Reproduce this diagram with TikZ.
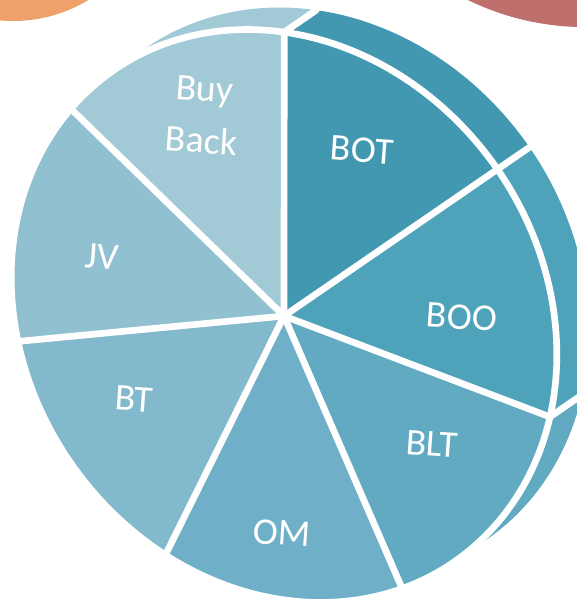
\documentclass[tikz,border=0pt]{standalone}
\usepackage{fontspec}
\setmainfont{Carlito}
\definecolor{cBOT}{RGB}{67,152,177}
\definecolor{cBOO}{RGB}{78,163,186}
\definecolor{cBLT}{RGB}{98,170,193}
\definecolor{cOM}{RGB}{111,175,199}
\definecolor{cBT}{RGB}{131,185,204}
\definecolor{cJV}{RGB}{145,193,209}
\definecolor{cBB}{RGB}{161,201,214}
\definecolor{corange}{RGB}{239,161,107}
\definecolor{cred}{RGB}{192,112,108}
\begin{document}
\begin{tikzpicture}[x=0.02cm,y=0.02cm,
  model/.style={shift={(284,284)},rotate=-55,xscale=1.15444,rotate=55},
  sep/.style={draw=white,line width=3.8pt,line join=round,line cap=round},
  lbl/.style={text=white,font=\fontsize{21.5}{29.6}\selectfont,rotate=-4,align=center,inner sep=0pt}]
\useasboundingbox (0,0) rectangle (577,600);
\clip (0,0) rectangle (577,600);
% corner discs
\fill[corange] (13,725) circle[radius=146];
\fill[cred] (585.5,840.9) circle[radius=268];
% front rim points
\begin{scope}[model]
  \coordinate (O) at (0,0);
  \foreach \i/\a in {0/86,1/34.571,2/-16.857,3/-68.286,4/-119.714,5/-171.143,6/137.429}
    {\coordinate (F\i) at (\a:259);}
\end{scope}
% back rim points
\begin{scope}[shift={(32,22)}]
  \begin{scope}[model]
    \coordinate (KO) at (0,0);
    \foreach \i/\a in {0/86,1/34.571,2/-16.857,3/-68.286,4/-119.714,5/-171.143,6/137.429}
      {\coordinate (K\i) at (\a:259);}
  \end{scope}
\end{scope}
\begin{scope}[model]
  % side bands
  \fill[cBB] (F0) arc[start angle=86,end angle=137.429,radius=259] -- (K6) arc[start angle=137.429,end angle=86,radius=259] -- cycle;
  \fill[cBOT] (F1) arc[start angle=34.571,end angle=86,radius=259] -- (K0) arc[start angle=86,end angle=34.571,radius=259] -- cycle;
  \fill[cBOO] (F2) arc[start angle=-16.857,end angle=34.571,radius=259] -- (K1) arc[start angle=34.571,end angle=-16.857,radius=259] -- cycle;
  \fill[cBLT] (F3) arc[start angle=-68.286,end angle=-16.857,radius=259] -- (K2) arc[start angle=-16.857,end angle=-68.286,radius=259] -- cycle;
  \foreach \i in {0,1,2} {\draw[sep] (F\i) -- (K\i);}
  % front faces
  \fill[cBOT] (O) -- (F1) arc[start angle=34.571,end angle=86,radius=259] -- cycle;
  \fill[cBOO] (O) -- (F2) arc[start angle=-16.857,end angle=34.571,radius=259] -- cycle;
  \fill[cBLT] (O) -- (F3) arc[start angle=-68.286,end angle=-16.857,radius=259] -- cycle;
  \fill[cOM] (O) -- (F4) arc[start angle=-119.714,end angle=-68.286,radius=259] -- cycle;
  \fill[cBT] (O) -- (F5) arc[start angle=188.857,end angle=240.286,radius=259] -- cycle;
  \fill[cJV] (O) -- (F6) arc[start angle=137.429,end angle=188.857,radius=259] -- cycle;
  \fill[cBB] (O) -- (F0) arc[start angle=86,end angle=137.429,radius=259] -- cycle;
  % white outlines
  \draw[sep] (0,0) circle[radius=259];
  \foreach \i in {0,...,6} {\draw[sep] (O) -- (F\i);}
\end{scope}
% labels
\node[lbl] (lBB) at (203,485) {Buy\\Back};
\node[lbl] (lBOT) at (362,450) {BOT};
\node[lbl] (lBOO) at (462,283) {BOO};
\node[lbl] (lBLT) at (432,156) {BLT};
\node[lbl] (lOM) at (282,67) {OM};
\node[lbl] (lBT) at (134,201) {BT};
\node[lbl] (lJV) at (102,343) {JV};
\end{tikzpicture}
\end{document}
